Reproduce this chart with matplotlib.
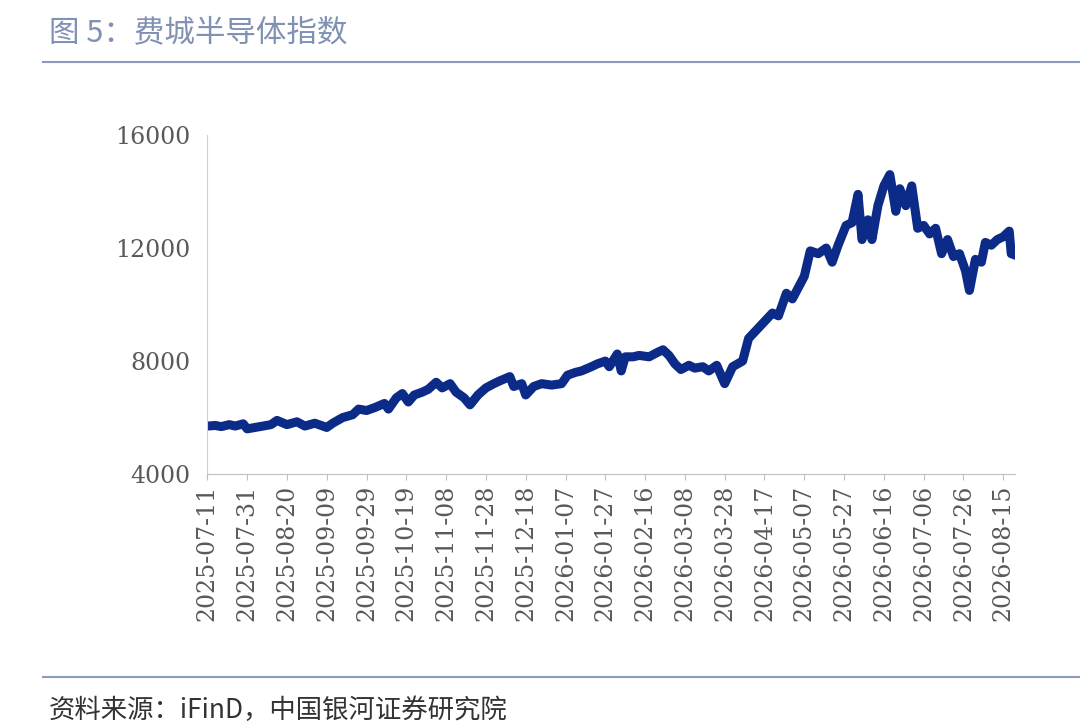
"""
plot.py

Line chart of the Philadelphia Semiconductor Index, rendered to out.png.
"""

import matplotlib.pyplot as plt
import pandas as pd

plt.rcParams['font.family'] = ['Noto Sans CJK SC', 'DejaVu Sans']


# ------------------------------------------------------------------ #
# Data
# ------------------------------------------------------------------ #
SOX = {
    "2025-07-11": 5700, "2025-07-15": 5720, "2025-07-18": 5680, "2025-07-22": 5750,
    "2025-07-25": 5700, "2025-07-29": 5780, "2025-07-31": 5600, "2025-08-04": 5650,
    "2025-08-08": 5700, "2025-08-12": 5750, "2025-08-15": 5900, "2025-08-20": 5750,
    "2025-08-25": 5850, "2025-08-29": 5700, "2025-09-03": 5800, "2025-09-09": 5650,
    "2025-09-12": 5800, "2025-09-17": 6000, "2025-09-22": 6100, "2025-09-25": 6300,
    "2025-09-29": 6250, "2025-10-03": 6350, "2025-10-08": 6500, "2025-10-10": 6300,
    "2025-10-14": 6700, "2025-10-17": 6850, "2025-10-20": 6550, "2025-10-23": 6800,
    "2025-10-27": 6900, "2025-10-30": 7000, "2025-11-03": 7250, "2025-11-06": 7050,
    "2025-11-10": 7200, "2025-11-13": 6900, "2025-11-17": 6700, "2025-11-20": 6450,
    "2025-11-24": 6800, "2025-11-28": 7050, "2025-12-02": 7200, "2025-12-05": 7300,
    "2025-12-10": 7450, "2025-12-12": 7100, "2025-12-16": 7200, "2025-12-18": 6800,
    "2025-12-22": 7100, "2025-12-26": 7200, "2025-12-31": 7150, "2026-01-05": 7200,
    "2026-01-08": 7500, "2026-01-12": 7600, "2026-01-15": 7650, "2026-01-20": 7800,
    "2026-01-23": 7900, "2026-01-27": 8000, "2026-01-29": 7800, "2026-02-02": 8250,
    "2026-02-04": 7650, "2026-02-06": 8150, "2026-02-10": 8150, "2026-02-13": 8200,
    "2026-02-18": 8150, "2026-02-22": 8300, "2026-02-25": 8400, "2026-02-28": 8200,
    "2026-03-03": 7900, "2026-03-06": 7700, "2026-03-10": 7850, "2026-03-13": 7750,
    "2026-03-17": 7800, "2026-03-20": 7650, "2026-03-24": 7850, "2026-03-28": 7200,
    "2026-04-01": 7800, "2026-04-06": 8000, "2026-04-09": 8800, "2026-04-13": 9100,
    "2026-04-17": 9400, "2026-04-21": 9700, "2026-04-24": 9600, "2026-04-28": 10400,
    "2026-05-01": 10200, "2026-05-04": 10600, "2026-05-07": 11000, "2026-05-10": 11900,
    "2026-05-14": 11800, "2026-05-18": 12000, "2026-05-21": 11500, "2026-05-24": 12100,
    "2026-05-28": 12800, "2026-05-31": 12900, "2026-06-03": 13900, "2026-06-05": 12300,
    "2026-06-08": 13000, "2026-06-10": 12300, "2026-06-13": 13500, "2026-06-16": 14200,
    "2026-06-19": 14600, "2026-06-22": 13300, "2026-06-24": 14100, "2026-06-27": 13500,
    "2026-06-30": 14200, "2026-07-03": 12700, "2026-07-06": 12800, "2026-07-09": 12500,
    "2026-07-12": 12700, "2026-07-15": 11800, "2026-07-18": 12300, "2026-07-21": 11700,
    "2026-07-24": 11800, "2026-07-27": 11200, "2026-07-29": 10500, "2026-08-01": 11600,
    "2026-08-04": 11500, "2026-08-06": 12200, "2026-08-09": 12100, "2026-08-12": 12300,
    "2026-08-15": 12400, "2026-08-18": 12600, "2026-08-19": 11800, "2026-08-21": 11750,
}


# ------------------------------------------------------------------ #
# Chart rendering
# ------------------------------------------------------------------ #
def plot_chart(data: dict, out_path: str = "out.png") -> None:
    """
    Draw the index line with the report-style title, rules and source note.
    """
    dates = pd.to_datetime(list(data.keys()))
    values = list(data.values())

    fig = plt.figure(figsize=(10.8, 7.26), dpi=100)
    ax = fig.add_axes([0.192, 0.347, 0.748, 0.467])

    ax.plot(dates, values, color="#0c2a88", linewidth=6.5, solid_joinstyle="round")

    ax.set_ylim(4000, 16000)
    ax.set_yticks([4000, 8000, 12000, 16000])
    ax.set_xlim(pd.Timestamp("2025-07-11"), pd.Timestamp("2026-08-21"))
    ticks = pd.date_range("2025-07-11", "2026-08-21", freq="20D")
    ax.set_xticks(ticks)
    ax.set_xticklabels([t.strftime("%Y-%m-%d") for t in ticks], rotation=90)
    ax.tick_params(axis="both", labelsize=17, colors="#595959")
    ax.tick_params(axis="y", length=0, pad=12)
    ax.tick_params(axis="x", length=4, color="#bfbfbf")
    for lbl in ax.get_xticklabels() + ax.get_yticklabels():
        lbl.set_family("DejaVu Serif")

    for side in ("top", "right"):
        ax.spines[side].set_visible(False)
    ax.spines["left"].set_color("#d0d0d0")
    ax.spines["bottom"].set_color("#bfbfbf")

    # Title and rules
    fig.text(0.045, 0.955, "图 5：费城半导体指数", fontsize=22, color="#8091b3", va="center")
    fig.add_artist(plt.Line2D([0.04, 1.0], [0.915, 0.915], color="#8a9bbd", linewidth=1.5))
    fig.add_artist(plt.Line2D([0.04, 1.0], [0.068, 0.068], color="#8a9bbd", linewidth=1.5))
    fig.text(0.045, 0.022, "资料来源：iFinD，中国银河证券研究院", fontsize=19,
             color="#333333", style="italic", va="center")

    fig.savefig(out_path)
    plt.close(fig)


plot_chart(SOX)
